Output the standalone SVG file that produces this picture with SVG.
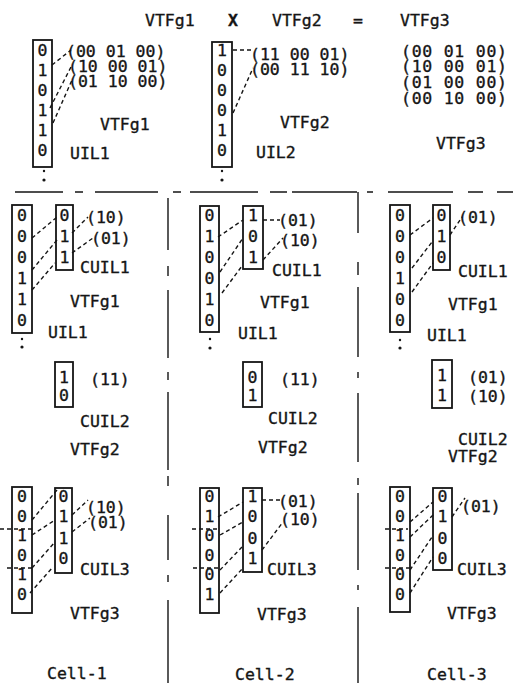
<svg xmlns="http://www.w3.org/2000/svg" width="513" height="683" viewBox="0 0 513 683">
<style>
text{font-family:"DejaVu Sans Mono","Liberation Mono",monospace;font-size:16.5px;fill:#151515;stroke:#151515;stroke-width:0.35}
.d{text-anchor:middle}
.box{fill:none;stroke:#151515;stroke-width:1.8}
.cn{stroke:#151515;stroke-width:1.4;stroke-dasharray:4 3;fill:none}
.sep{stroke:#151515;stroke-width:1.4;fill:none}
.dot{fill:#151515}
</style>
<rect width="513" height="683" fill="#fff"/>

<g id="title">
<text x="145" y="26">VTFg1</text>
<text x="228" y="26" font-weight="bold">X</text>
<text x="272" y="26">VTFg2</text>
<text x="353" y="26">=</text>
<text x="400" y="26">VTFg3</text>
</g>

<g id="top-uil1">
<rect class="box" x="33" y="40" width="19" height="127"/>
<text class="d" x="42.5" y="56">0</text><text class="d" x="42.5" y="76">1</text><text class="d" x="42.5" y="96">0</text><text class="d" x="42.5" y="116">1</text><text class="d" x="42.5" y="136">1</text><text class="d" x="42.5" y="156">0</text>
<circle class="dot" cx="44" cy="171" r="1.2"/><circle class="dot" cx="44" cy="180" r="1.6"/>
<text x="70" y="159">UIL1</text>
</g>
<g id="top-vtfg1">
<text x="66" y="57">(00 01 00)</text>
<text x="68" y="72">(10 00 01)</text>
<text x="68" y="87">(01 10 00)</text>
<text x="100" y="130">VTFg1</text>
</g>

<g id="top-uil2">
<rect class="box" x="212" y="42" width="20" height="125"/>
<text class="d" x="222" y="56">1</text><text class="d" x="222" y="76">0</text><text class="d" x="222" y="96">0</text><text class="d" x="222" y="116">0</text><text class="d" x="222" y="136">1</text><text class="d" x="222" y="156">0</text>
<circle class="dot" cx="222" cy="171" r="1.2"/><circle class="dot" cx="222" cy="180" r="1.6"/>
<text x="256" y="158">UIL2</text>
</g>
<g id="top-vtfg2">
<text x="250" y="60">(11 00 01)</text>
<text x="250" y="75">(00 11 10)</text>
<text x="280" y="128">VTFg2</text>
</g>

<g id="top-vtfg3">
<text x="401" y="57" textLength="106">(00 01 00)</text>
<text x="401" y="72" textLength="106">(10 00 01)</text>
<text x="401" y="88" textLength="106">(01 00 00)</text>
<text x="401" y="104" textLength="106">(00 10 00)</text>
<text x="436" y="149">VTFg3</text>
</g>

<g id="separators">
<path class="sep" d="M15 192H63M75 192H83M95 192H158M173 192H181M190 192H258M270 192H287M292 192H357M367 192H373M388 192H453M468 192H483M497 192H513"/>
<path class="sep" d="M168 198V250M168 266V276M168 290V358M168 372V380M168 392V470M168 476V486M168 515V560M168 575V582M168 600V683"/>
<path class="sep" d="M358 192V233M358 262V275M358 287V357M358 372V378M358 393V462M358 478V485M358 493V570M358 585V590M358 607V683"/>
</g>

<!-- Cell 1 -->
<g id="c1-uil1">
<rect class="box" x="12" y="205" width="20" height="128"/>
<text class="d" x="22" y="221">0</text><text class="d" x="22" y="242">0</text><text class="d" x="22" y="263">0</text><text class="d" x="22" y="284">1</text><text class="d" x="22" y="305">1</text><text class="d" x="22" y="326">0</text>
<circle class="dot" cx="22" cy="339" r="1.2"/><circle class="dot" cx="22" cy="347" r="1.6"/>
<text x="48" y="338">UIL1</text>
<text x="70" y="307">VTFg1</text>
</g>
<g id="c1-cuil1">
<rect class="box" x="56" y="205" width="17" height="65"/>
<text class="d" x="64.5" y="221">0</text><text class="d" x="64.5" y="242">1</text><text class="d" x="64.5" y="263">1</text>
<text x="86" y="223">(10)</text><text x="91" y="244">(01)</text>
<text x="80" y="273">CUIL1</text>
</g>
<g id="c1-cuil2">
<rect class="box" x="55" y="362" width="18" height="45"/>
<text class="d" x="64" y="383">1</text><text class="d" x="64" y="401">0</text>
<text x="90" y="385">(11)</text>
<text x="80" y="427">CUIL2</text>
<text x="70" y="455">VTFg2</text>
</g>
<g id="c1-uil3">
<rect class="box" x="12" y="487" width="20" height="126"/>
<text class="d" x="22" y="502">0</text><text class="d" x="22" y="521.5">0</text><text class="d" x="22" y="541">1</text><text class="d" x="22" y="561">0</text><text class="d" x="22" y="580">1</text><text class="d" x="22" y="600">0</text>
<text x="70" y="619">VTFg3</text>
</g>
<g id="c1-cuil3">
<rect class="box" x="55" y="488" width="17" height="85"/>
<text class="d" x="63.5" y="502">0</text><text class="d" x="63.5" y="522">1</text><text class="d" x="63.5" y="544">1</text><text class="d" x="63.5" y="564">0</text>
<text x="86" y="513">(10)</text><text x="88" y="528">(01)</text>
<text x="80" y="575">CUIL3</text>
</g>
<g id="c1-label"><text x="47" y="679">Cell-1</text></g>

<!-- Cell 2 -->
<g id="c2-uil1">
<rect class="box" x="200" y="206" width="19" height="126"/>
<text class="d" x="209.5" y="221">0</text><text class="d" x="209.5" y="242">1</text><text class="d" x="209.5" y="263">0</text><text class="d" x="209.5" y="284">0</text><text class="d" x="209.5" y="305">1</text><text class="d" x="209.5" y="326">0</text>
<circle class="dot" cx="210" cy="339" r="1.2"/><circle class="dot" cx="210" cy="348" r="1.6"/>
<text x="238" y="339">UIL1</text>
<text x="260" y="308">VTFg1</text>
</g>
<g id="c2-cuil1">
<rect class="box" x="243" y="206" width="20" height="63"/>
<text class="d" x="253" y="221">1</text><text class="d" x="253" y="242">0</text><text class="d" x="253" y="263">1</text>
<text x="278" y="226">(01)</text><text x="280" y="246">(10)</text>
<text x="272" y="276">CUIL1</text>
</g>
<g id="c2-cuil2">
<rect class="box" x="243" y="362" width="19" height="45"/>
<text class="d" x="252.5" y="383">0</text><text class="d" x="252.5" y="401">1</text>
<text x="280" y="385">(11)</text>
<text x="268" y="424">CUIL2</text>
<text x="258" y="453">VTFg2</text>
</g>
<g id="c2-uil3">
<rect class="box" x="200" y="488" width="19" height="125"/>
<text class="d" x="209.5" y="502">0</text><text class="d" x="209.5" y="521.5">1</text><text class="d" x="209.5" y="541">0</text><text class="d" x="209.5" y="561">0</text><text class="d" x="209.5" y="580">0</text><text class="d" x="209.5" y="600">1</text>
<text x="257" y="620">VTFg3</text>
</g>
<g id="c2-cuil3">
<rect class="box" x="243" y="488" width="19" height="84"/>
<text class="d" x="252.5" y="502">1</text><text class="d" x="252.5" y="522">0</text><text class="d" x="252.5" y="544">0</text><text class="d" x="252.5" y="564">1</text>
<text x="278" y="507">(01)</text><text x="280" y="525">(10)</text>
<text x="267" y="575">CUIL3</text>
</g>
<g id="c2-label"><text x="235" y="680">Cell-2</text></g>

<!-- Cell 3 -->
<g id="c3-uil1">
<rect class="box" x="390" y="205" width="20" height="127"/>
<text class="d" x="400" y="221">0</text><text class="d" x="400" y="242">0</text><text class="d" x="400" y="263">0</text><text class="d" x="400" y="284">1</text><text class="d" x="400" y="305">0</text><text class="d" x="400" y="326">0</text>
<circle class="dot" cx="400" cy="340" r="1.2"/><circle class="dot" cx="400" cy="348" r="1.6"/>
<text x="427" y="341">UIL1</text>
<text x="448" y="310">VTFg1</text>
</g>
<g id="c3-cuil1">
<rect class="box" x="433" y="205" width="17" height="65"/>
<text class="d" x="441.5" y="221">0</text><text class="d" x="441.5" y="242">1</text><text class="d" x="441.5" y="263">0</text>
<text x="458" y="223">(01)</text>
<text x="458" y="277">CUIL1</text>
</g>
<g id="c3-cuil2">
<rect class="box" x="432" y="360" width="20" height="48"/>
<text class="d" x="442" y="381">1</text><text class="d" x="442" y="401">1</text>
<text x="468" y="383">(01)</text><text x="468" y="402">(10)</text>
<text x="458" y="445">CUIL2</text>
<text x="448" y="462">VTFg2</text>
</g>
<g id="c3-uil3">
<rect class="box" x="390" y="487" width="20" height="125"/>
<text class="d" x="400" y="502">0</text><text class="d" x="400" y="521.5">0</text><text class="d" x="400" y="541">1</text><text class="d" x="400" y="561">0</text><text class="d" x="400" y="580">0</text><text class="d" x="400" y="600">0</text>
<text x="447" y="619">VTFg3</text>
</g>
<g id="c3-cuil3">
<rect class="box" x="433" y="488" width="19" height="82"/>
<text class="d" x="442.5" y="502">0</text><text class="d" x="442.5" y="522">1</text><text class="d" x="442.5" y="544">0</text><text class="d" x="442.5" y="564">0</text>
<text x="461" y="512">(01)</text>
<text x="457" y="575">CUIL3</text>
</g>
<g id="c3-label"><text x="427" y="680">Cell-3</text></g>

<g id="connectors">
<path class="cn" d="M52 65L71 50M50 108L72 65M53 123L72 80"/>
<path class="cn" d="M233 50L251 50M233 113L253 68"/>
<path class="cn" d="M32 238L57 217M32 270L57 240M32 290L55 263M72 233L88 217M72 253L93 238"/>
<path class="cn" d="M218 237L243 220M220 272L243 238M222 293L242 266M263 220L280 220M263 260L283 238"/>
<path class="cn" d="M410 235L433 218M412 268L432 242M412 292L433 263M450 235L462 217"/>
<path class="cn" d="M32 520L57 490M32 535L55 520M32 568L55 542M30 593L53 567M72 515L88 500M72 532L90 518"/>
<path class="cn" d="M218 517L243 502M220 535L243 522M220 570L242 547M220 593L243 568M262 500L280 500M262 550L283 522"/>
<path class="cn" d="M410 522L433 502M410 537L433 515M410 570L432 537M410 593L433 557M452 517L465 498"/>
<path class="cn" d="M0 529H32M192 529H220M385 529H408M7 568H32M193 568H220M385 568H410"/>
</g>
</svg>
